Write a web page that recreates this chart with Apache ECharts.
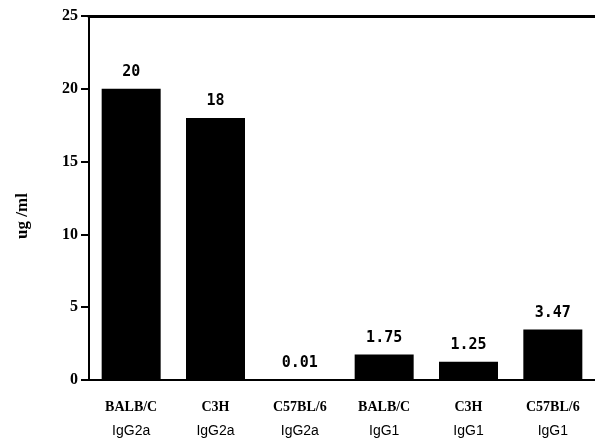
<!DOCTYPE html>
<html><head><meta charset="utf-8">
<script src="https://cdn.jsdelivr.net/npm/echarts@6/dist/echarts.min.js"></script>
<style>html,body{margin:0;padding:0;background:#fff}#c{width:595px;height:442px}</style>
</head><body><div id="c"></div>
<script>
var strains = ['BALB/C','C3H','C57BL/6','BALB/C','C3H','C57BL/6'];
var isotypes = ['IgG2a','IgG2a','IgG2a','IgG1','IgG1','IgG1'];
var values = [20, 18, 0.01, 1.75, 1.25, 3.47];
var yTicks = [0, 5, 10, 15, 20, 25];

var cats = strains.map(function(s,i){ return s + '\n' + isotypes[i]; });
var chart = echarts.init(document.getElementById('c'));
chart.setOption({
  animation: false,
  grid: { left: 89, right: 0, top: 16, bottom: 62 },
  xAxis: [{
    type: 'category', data: cats, position: 'bottom',
    axisLine: { lineStyle: { color: '#000', width: 2 } },
    axisTick: { alignWithLabel: true, length: 6, lineStyle: { color: '#000', width: 1 } },
    axisLabel: {
      margin: 15, interval: 0,
      formatter: function(v){ var p = v.split('\n'); return '{a|' + p[0] + '}\n{b|' + p[1] + '}'; },
      rich: {
        a: { fontFamily: 'Liberation Serif', fontWeight: 'bold', fontSize: 14, color: '#000', lineHeight: 24 },
        b: { fontFamily: 'Liberation Sans Narrow, Liberation Sans', fontSize: 14, color: '#000', lineHeight: 24 }
      }
    }
  }, {
    type: 'category', data: cats, position: 'top',
    axisLine: { lineStyle: { color: '#000', width: 3 } },
    axisTick: { show: false }, axisLabel: { show: false }
  }],
  yAxis: {
    type: 'value', min: yTicks[0], max: yTicks[yTicks.length-1], interval: 5,
    name: 'ug /ml', nameLocation: 'middle', nameGap: 58,
    nameTextStyle: { fontFamily: 'Liberation Serif', fontWeight: 'bold', fontSize: 17, color: '#000', padding: [0, 36, 0, 0] },
    axisLine: { show: true, lineStyle: { color: '#000', width: 2 } },
    axisTick: { show: true, length: 8, lineStyle: { color: '#000', width: 2 } },
    splitLine: { show: false },
    axisLabel: { margin: 11, fontFamily: 'Liberation Serif', fontWeight: 'bold', fontSize: 16, color: '#000' }
  },
  series: [{
    type: 'bar', data: values, barWidth: 59, xAxisIndex: 0,
    itemStyle: { color: '#000' },
    label: { show: true, position: 'top', distance: 9, fontFamily: 'DejaVu Sans Mono', fontWeight: 'bold', fontSize: 15, color: '#000' }
  }]
});
</script></body></html>
